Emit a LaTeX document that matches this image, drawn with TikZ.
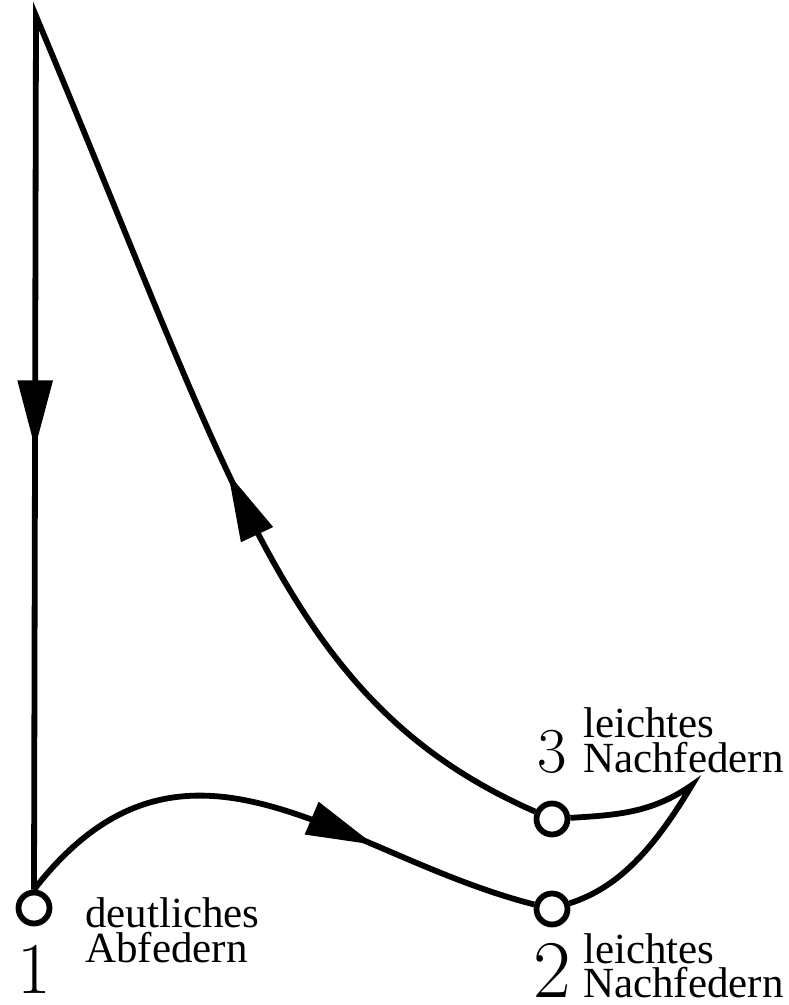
\documentclass[tikz,border=0pt]{standalone}
\usepackage{fontspec}
\newfontfamily\notefont{Liberation Serif}
\usepackage{tikz}
\usetikzlibrary{arrows.meta, decorations.markings, positioning}

\begin{document}
\begin{tikzpicture}[x=1pt, y=1pt,
    station/.style={circle, draw, fill=white, line width=5.8pt, minimum size=31pt, inner sep=0pt},
    track/.style={line width=5.8pt, line join=miter},
    arrowat/.style={postaction={decorate, decoration={markings,
        mark=at position #1 with {\arrow{Triangle[length=68pt, width=34pt]}}}}},
    note/.style={font=\notefont\fontsize{43}{35}\selectfont, align=left, inner sep=0pt, anchor=base west},
    num/.style={inner sep=0pt, anchor=base}
]
    \useasboundingbox (0,0) rectangle (789,1005);

    \coordinate (top) at (36,989);
    \coordinate (cusp) at (692,220);
    \node[station] (p1) at (34,97) {};
    \node[station] (p2) at (552,96) {};
    \node[station] (p3) at (552,186) {};

    % Weg 1 -> 2 -> Spitze -> 3 -> oben -> 1
    \draw[track, arrowat=0.69] (p1.north) .. controls (185,310) and (340,150) .. (p2);
    \draw[track] (p2) .. controls (617,117) and (652,153) .. (cusp)
        .. controls (652,192) and (617,190) .. (p3);
    \draw[track, arrowat=0.255, arrowat=0.76] (p3) .. controls (288,302) and (238,508) .. (top) -- (p1.north);

    \node[num, font=\fontsize{73}{73}\selectfont] (n1) at (34,12) {1};
    \node[num, font=\fontsize{82}{82}\selectfont] (n2) at (552,8) {2};
    \node[num, font=\fontsize{64}{64}\selectfont] (n3) at (552,232) {3};

    \node[note] (t1) at (85,42) {deutliches\\Abfedern};
    \node[note] (t2) at (583,7) {leichtes\\Nachfedern};
    \node[note] (t3) at (583,232) {leichtes\\Nachfedern};
\end{tikzpicture}
\end{document}
